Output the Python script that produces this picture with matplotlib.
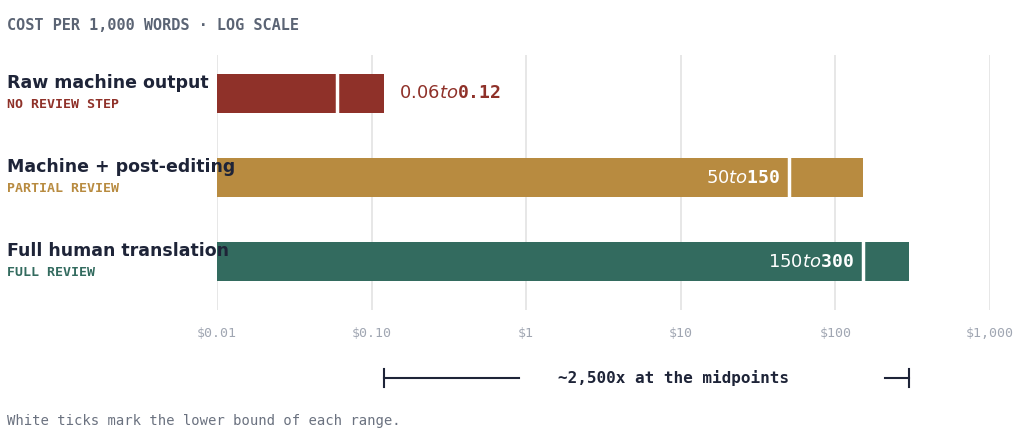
import matplotlib.pyplot as plt
import numpy as np

# data
names = ['Raw machine output', 'Machine + post-editing', 'Full human translation']
reviews = ['NO REVIEW STEP', 'PARTIAL REVIEW', 'FULL REVIEW']
low = [0.06, 50, 150]
high = [0.12, 150, 300]
labels = ['$0.06 to $0.12', '$50 to $150', '$150 to $300']
colors = ['#8f3129', '#b88b40', '#336b5f']
ticks = [0.01, 0.1, 1, 10, 100, 1000]
tick_labels = ['$0.01', '$0.10', '$1', '$10', '$100', '$1,000']
base = 0.01

navy = '#1e2438'
mono = 'DejaVu Sans Mono'

fig = plt.figure(figsize=(10.24, 4.4), dpi=100)
ax = fig.add_axes([217/1024, 1-310/440, (990-217)/1024, 255/440])
ax.set_xscale('log')
ax.set_xlim(0.01, 1000)
ax.set_ylim(310, 55)  # y in pixel rows

centers = [93.5, 177.5, 261.5]
for i in range(3):
    y = centers[i]
    ax.barh(y, high[i] - base, left=base, height=39, color=colors[i], zorder=2)
    ax.plot([low[i], low[i]], [y - 19.5, y + 19.5], color='white', lw=2.5, zorder=3)
    if i == 0:
        ax.text(high[i] * 1.25, y, labels[i], color=colors[i], va='center', ha='left',
                fontsize=13, fontweight='bold', family=mono)
    else:
        ax.text(low[i] * 0.88, y, labels[i], color='white', va='center', ha='right',
                fontsize=13, fontweight='bold', family=mono, zorder=4)
    fig.text(7/1024, 1 - (y - 10) / 440, names[i], color=navy, fontsize=12.5,
             fontweight='bold', va='center', ha='left')
    fig.text(7/1024, 1 - (y + 11) / 440, reviews[i], color=colors[i], fontsize=9.5,
             fontweight='bold', family=mono, va='center', ha='left')

ax.set_xticks(ticks)
ax.set_xticklabels(tick_labels, family=mono, fontsize=9.5, color='#a0a6b2')
ax.minorticks_off()
ax.tick_params(axis='x', length=0, pad=12)
ax.set_yticks([])
ax.grid(axis='x', color='#e3e3e3', lw=1.2, zorder=0)
for s in ax.spines.values():
    s.set_visible(False)

# bracket
yb = 378
x0, x1 = high[0], high[2]
ax.plot([x0, 0.9], [yb, yb], color=navy, lw=1.5, clip_on=False)
ax.plot([210, x1], [yb, yb], color=navy, lw=1.5, clip_on=False)
for x in (x0, x1):
    ax.plot([x, x], [yb - 9, yb + 9], color=navy, lw=1.5, clip_on=False)
ax.text(np.sqrt(x0 * x1) * 1.5, yb, '~2,500x at the midpoints', color=navy, ha='center',
        va='center', fontsize=11.5, fontweight='bold', family=mono, clip_on=False)

fig.text(7/1024, 1 - 25/440, 'C O S T   P E R   1 , 0 0 0   W O R D S   ·   L O G   S C A L E'.replace('   ', '\u2002').replace(' ', ''),
         color='#5b6474', fontsize=11, fontweight='bold', family=mono, va='center')
fig.text(7/1024, 1 - 421/440, 'White ticks mark the lower bound of each range.', color='#6b7280',
         fontsize=10, family=mono, va='center')

fig.savefig('out.png', dpi=100, facecolor='white')
